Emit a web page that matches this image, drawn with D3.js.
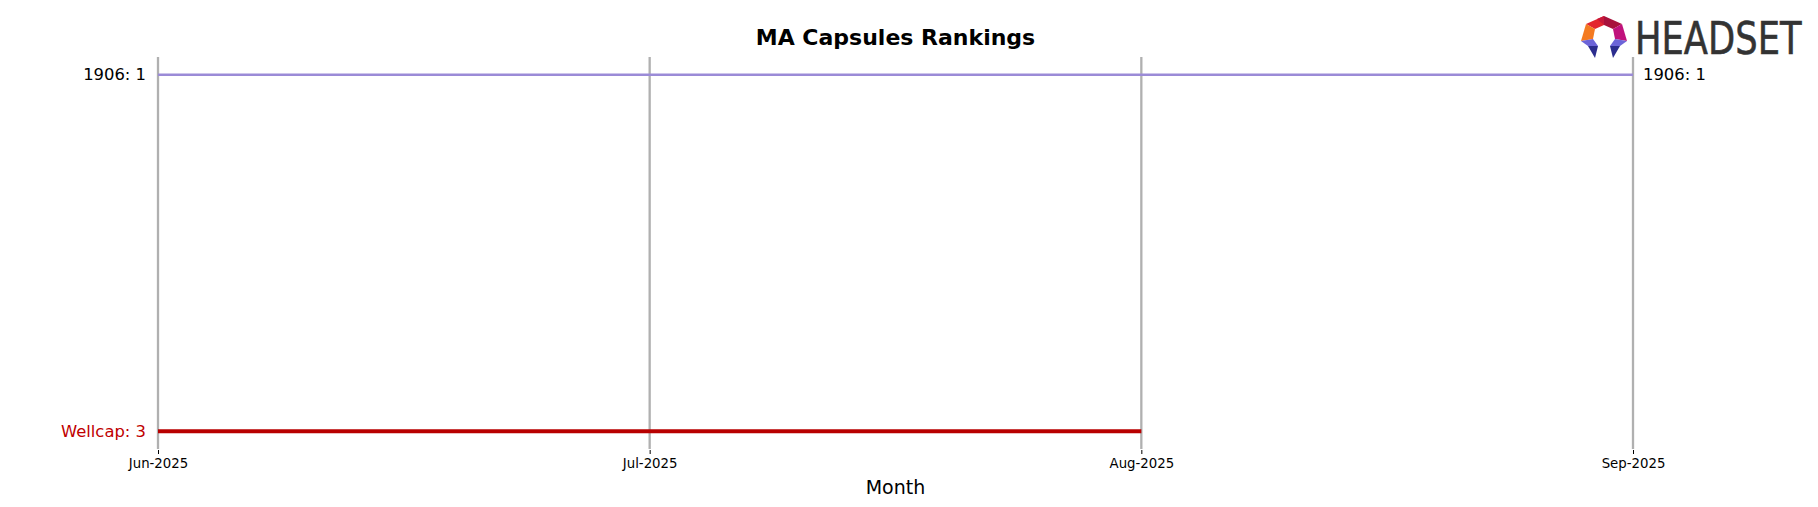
<!DOCTYPE html>
<html>
<head>
<meta charset="utf-8">
<script src="https://cdn.jsdelivr.net/npm/d3@7"></script>
<style>
  html, body { margin: 0; padding: 0; background: #fff; }
  svg { display: block; font-family: "DejaVu Sans", sans-serif; }
</style>
</head>
<body>
<svg id="chart" width="1818" height="507"></svg>
<script>
const months = ["Jun-2025", "Jul-2025", "Aug-2025", "Sep-2025"];
const brands = ["1906", "Wellcap"];
const rank1906 = [1, 1, 1, 1];
const rankWellcap = [3, 3, 3, null];
const brandColors = ["#9b8bd7", "#b80000"];
const labelColors = ["#000000", "#c00000"];
const lineWidths = [2.6, 4];
const rankDomain = [0.9, 3.1];

const series = [rank1906, rankWellcap];

const svg = d3.select("#chart");
const W = 1818, H = 507;
const margin = { left: 158, right: W - 1633, top: 57, bottom: H - 449 };

const x = d3.scalePoint().domain(months).range([margin.left, W - margin.right]);
const y = d3.scaleLinear().domain(rankDomain).range([margin.top, H - margin.bottom]);

// vertical grid lines
svg.append("g").selectAll("line").data(months).join("line")
  .attr("x1", d => x(d)).attr("x2", d => x(d))
  .attr("y1", y(rankDomain[0])).attr("y2", y(rankDomain[1]))
  .attr("stroke", "#b0b0b0").attr("stroke-width", 2.3);

// x axis
const xAxis = d3.axisBottom(x).tickSize(4).tickPadding(5);
const gx = svg.append("g").attr("transform", `translate(0,${y(rankDomain[1]) + 1})`).call(xAxis);
gx.select(".domain").remove();
gx.selectAll(".tick line").attr("stroke", "#000").attr("stroke-width", 1);
gx.selectAll(".tick text").attr("font-size", "13.3px").attr("fill", "#000")
  .attr("font-family", "DejaVu Sans, sans-serif");

// lines
const line = d3.line()
  .defined(d => d.v != null)
  .x(d => x(d.m)).y(d => y(d.v));

series.forEach((vals, i) => {
  const pts = months.map((m, j) => ({ m, v: vals[j] }));
  svg.append("path").datum(pts)
    .attr("d", line)
    .attr("fill", "none")
    .attr("stroke", brandColors[i])
    .attr("stroke-width", lineWidths[i]);

  const defined = pts.filter(p => p.v != null);
  const first = defined[0];
  const last = defined[defined.length - 1];
  svg.append("text")
    .attr("x", x(first.m) - 12).attr("y", y(first.v))
    .attr("text-anchor", "end").attr("dominant-baseline", "central")
    .attr("font-size", "16.4px").attr("fill", labelColors[i])
    .text(`${brands[i]}: ${first.v}`);
  if (last.m === months[months.length - 1]) {
    svg.append("text")
      .attr("x", x(last.m) + 10).attr("y", y(last.v))
      .attr("text-anchor", "start").attr("dominant-baseline", "central")
      .attr("font-size", "16.4px").attr("fill", labelColors[i])
      .text(`${brands[i]}: ${last.v}`);
  }
});

// title
svg.append("text")
  .attr("x", (margin.left + W - margin.right) / 2).attr("y", 37)
  .attr("text-anchor", "middle").attr("dominant-baseline", "central")
  .attr("font-size", "22px").attr("font-weight", "bold").attr("fill", "#000")
  .text("MA Capsules Rankings");

// x axis label
svg.append("text")
  .attr("x", (margin.left + W - margin.right) / 2).attr("y", 487)
  .attr("text-anchor", "middle").attr("dominant-baseline", "central")
  .attr("font-size", "19px").attr("fill", "#000")
  .text("Month");

// logo
const logo = svg.append("g");
const facets = [
  { c: "#e3262e", p: [[1604,16],[1586,24],[1595,29],[1604,25]] },
  { c: "#a8123c", p: [[1604,16],[1622,24],[1613,29],[1604,25]] },
  { c: "#c8183a", p: [[1597,19],[1604,16],[1604,25]] },
  { c: "#f47a20", p: [[1586,24],[1581,41],[1593,39],[1595,29]] },
  { c: "#c0127c", p: [[1622,24],[1627,41],[1615,39],[1613,29]] },
  { c: "#6c64d8", p: [[1581,41],[1593,39],[1598,46],[1588,46]] },
  { c: "#2c2d8e", p: [[1588,46],[1598,46],[1595,58]] },
  { c: "#6c64d8", p: [[1627,41],[1615,39],[1610,46],[1620,46]] },
  { c: "#2c2d8e", p: [[1620,46],[1610,46],[1613,58]] }
];
logo.selectAll("polygon").data(facets).join("polygon")
  .attr("points", d => d.p.map(q => q.join(",")).join(" "))
  .attr("fill", d => d.c);
logo.append("text")
  .attr("transform", "translate(1635,54) scale(0.785,1)")
  .attr("x", 0).attr("y", 0)
  .attr("font-size", "45px").attr("fill", "#333")
  .attr("stroke", "#333").attr("stroke-width", 0.6)
  .attr("font-family", "DejaVu Sans, sans-serif")
  .text("HEADSET");
</script>
</body>
</html>
